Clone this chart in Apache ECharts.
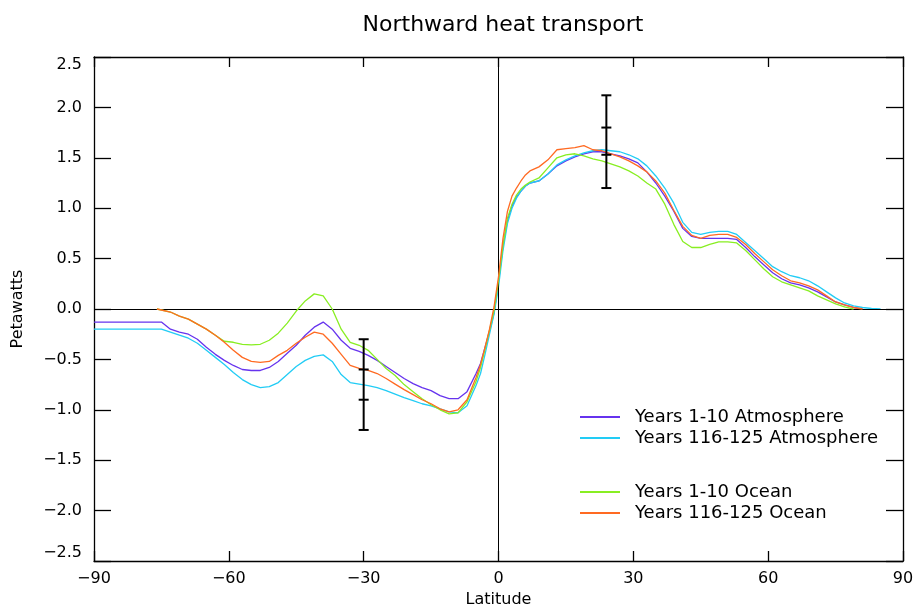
<!DOCTYPE html>
<html>
<head>
<meta charset="utf-8">
<script src="https://cdn.jsdelivr.net/npm/echarts@6/dist/echarts.min.js"></script>
<style>
html,body{margin:0;padding:0;background:#fff;}
#chart{width:917px;height:609px;}
</style>
</head>
<body>
<div id="chart"></div>
<script>
// ---- data ----
const lat = [-90, -76, -75, -73, -71, -69, -67, -65, -63, -61, -59, -57, -55, -53, -51, -49, -47, -45, -43, -41, -39, -37, -35, -33, -31, -29, -27, -25, -23, -21, -19, -17, -15, -13, -11, -9, -7, -5, -4, -3, -2, -1, 0, 1, 2, 3, 4, 5, 6, 7, 9, 11, 13, 15, 17, 19, 21, 23, 25, 27, 29, 31, 33, 35, 37, 39, 41, 43, 45, 47, 49, 51, 53, 55, 57, 59, 61, 63, 65, 67, 69, 71, 73, 75, 77, 79, 81, 83, 85];

const atm1_10 = [-0.13, -0.13, -0.13, -0.20, -0.23, -0.25, -0.30, -0.38, -0.45, -0.51, -0.56, -0.60, -0.61, -0.61, -0.58, -0.52, -0.44, -0.36, -0.26, -0.18, -0.13, -0.20, -0.31, -0.39, -0.42, -0.46, -0.51, -0.57, -0.63, -0.69, -0.74, -0.78, -0.81, -0.86, -0.89, -0.89, -0.82, -0.64, -0.54, -0.38, -0.22, -0.04, 0.27, 0.62, 0.88, 1.02, 1.11, 1.17, 1.22, 1.25, 1.27, 1.34, 1.42, 1.47, 1.51, 1.54, 1.56, 1.56, 1.54, 1.52, 1.49, 1.45, 1.36, 1.25, 1.12, 0.97, 0.80, 0.72, 0.70, 0.70, 0.70, 0.70, 0.69, 0.61, 0.52, 0.44, 0.36, 0.30, 0.26, 0.24, 0.21, 0.17, 0.12, 0.07, 0.04, 0.015, 0.0, null, null];

const atm116_125 = [-0.20, -0.20, -0.20, -0.23, -0.26, -0.29, -0.34, -0.41, -0.48, -0.55, -0.63, -0.70, -0.75, -0.78, -0.77, -0.73, -0.65, -0.57, -0.51, -0.47, -0.455, -0.52, -0.65, -0.73, -0.745, -0.76, -0.78, -0.81, -0.845, -0.88, -0.91, -0.94, -0.96, -0.99, -1.02, -1.03, -0.96, -0.76, -0.64, -0.45, -0.25, -0.05, 0.22, 0.58, 0.85, 1.00, 1.10, 1.17, 1.22, 1.25, 1.27, 1.34, 1.43, 1.48, 1.52, 1.55, 1.57, 1.58, 1.57, 1.56, 1.53, 1.49, 1.42, 1.32, 1.20, 1.05, 0.86, 0.76, 0.74, 0.76, 0.77, 0.77, 0.74, 0.66, 0.58, 0.50, 0.42, 0.37, 0.33, 0.31, 0.28, 0.23, 0.17, 0.11, 0.06, 0.03, 0.015, 0.005, 0.0];

const ocn1_10 = [null, 0.0, -0.01, -0.03, -0.07, -0.10, -0.15, -0.20, -0.26, -0.32, -0.33, -0.35, -0.355, -0.35, -0.31, -0.24, -0.14, -0.02, 0.08, 0.15, 0.13, 0.0, -0.20, -0.33, -0.36, -0.41, -0.50, -0.59, -0.66, -0.75, -0.82, -0.89, -0.95, -1.00, -1.04, -1.03, -0.92, -0.72, -0.58, -0.40, -0.21, -0.02, 0.28, 0.63, 0.90, 1.04, 1.13, 1.19, 1.23, 1.26, 1.30, 1.40, 1.50, 1.53, 1.54, 1.52, 1.49, 1.47, 1.44, 1.41, 1.37, 1.32, 1.25, 1.19, 1.04, 0.84, 0.67, 0.61, 0.61, 0.64, 0.665, 0.665, 0.655, 0.58, 0.49, 0.40, 0.32, 0.27, 0.24, 0.21, 0.18, 0.13, 0.09, 0.05, 0.02, 0.0, null, null, null];

const ocn116_125 = [null, 0.0, -0.01, -0.03, -0.07, -0.10, -0.15, -0.20, -0.26, -0.33, -0.41, -0.48, -0.52, -0.53, -0.52, -0.46, -0.41, -0.34, -0.28, -0.23, -0.25, -0.34, -0.45, -0.56, -0.59, -0.61, -0.64, -0.69, -0.745, -0.80, -0.85, -0.90, -0.94, -0.99, -1.02, -1.00, -0.90, -0.68, -0.55, -0.38, -0.20, 0.02, 0.32, 0.70, 0.97, 1.12, 1.20, 1.27, 1.33, 1.37, 1.41, 1.48, 1.58, 1.59, 1.60, 1.62, 1.58, 1.57, 1.54, 1.51, 1.47, 1.42, 1.36, 1.27, 1.15, 0.98, 0.82, 0.73, 0.70, 0.73, 0.74, 0.74, 0.71, 0.64, 0.55, 0.47, 0.39, 0.33, 0.28, 0.26, 0.23, 0.19, 0.13, 0.07, 0.04, 0.015, 0.0, null, null];

const seriesNames = ['Years 1-10 Atmosphere', 'Years 116-125 Atmosphere', 'Years 1-10 Ocean', 'Years 116-125 Ocean'];
const seriesColors = ['#6633ee', '#22ccf5', '#88ee22', '#ff6a22'];

// error bars: latitude, outer low/high, inner low/high
const errLat = [-30, 24];
const errOuterLow = [-1.2, 1.2];
const errOuterHigh = [-0.3, 2.12];
const errInnerLow = [-0.9, 1.53];
const errInnerHigh = [-0.6, 1.8];

// ---- chart ----
const FONT = 'DejaVu Sans';
const chart = echarts.init(document.getElementById('chart'));
const minus = s => String(s).replace('-', '\u2212');

function pairs(vals) {
  const out = [];
  lat.forEach((x, i) => { if (vals[i] !== null) out.push([x, vals[i]]); });
  return out;
}
const allVals = [atm1_10, atm116_125, ocn1_10, ocn116_125];

const lineSeries = allVals.map((v, k) => ({
  name: seriesNames[k],
  type: 'line',
  data: pairs(v),
  showSymbol: false,
  symbol: 'none',
  lineStyle: { width: 1.3, color: seriesColors[k] },
  itemStyle: { color: seriesColors[k] },
  z: 3 + k,
  animation: false
}));

lineSeries[0].markLine = {
  silent: true,
  symbol: 'none',
  label: { show: false },
  lineStyle: { color: '#000', width: 1, type: 'solid' },
  data: [{ xAxis: 0 }, { yAxis: 0 }],
  animation: false
};

const errSeries = {
  type: 'custom',
  data: errLat.map((x, i) => [x, errOuterLow[i], errOuterHigh[i], errInnerLow[i], errInnerHigh[i]]),
  encode: { x: 0, y: [1, 2, 3, 4] },
  z: 10,
  silent: true,
  animation: false,
  renderItem: function (params, api) {
    const x = api.value(0);
    const ys = [api.value(1), api.value(2), api.value(3), api.value(4)];
    const pts = ys.map(y => api.coord([x, y]));
    const style = { stroke: '#000', lineWidth: 2 };
    const children = [{
      type: 'line',
      shape: { x1: pts[0][0], y1: pts[0][1], x2: pts[1][0], y2: pts[1][1] },
      style: style
    }];
    pts.forEach(p => children.push({
      type: 'line',
      shape: { x1: p[0] - 5, y1: p[1], x2: p[0] + 5, y2: p[1] },
      style: style
    }));
    return { type: 'group', children: children };
  }
};

const legendCommon = {
  orient: 'vertical',
  left: 575,
  itemWidth: 40,
  itemHeight: 2,
  itemGap: 1,
  icon: 'rect',
  selectedMode: false,
  textStyle: { fontFamily: FONT, fontSize: 18, color: '#000', lineHeight: 20, padding: [0, 0, 0, 10] }
};

const option = {
  backgroundColor: '#fff',
  animation: false,
  title: {
    text: 'Northward heat transport',
    left: 498, top: 9, textAlign: 'center',
    textStyle: { fontFamily: FONT, fontSize: 22, fontWeight: 'normal', color: '#000' }
  },
  legend: [
    Object.assign({}, legendCommon, { top: 402, data: [seriesNames[0], seriesNames[1]] }),
    Object.assign({}, legendCommon, { top: 477, data: [seriesNames[2], seriesNames[3]] })
  ],
  grid: { left: 94, right: 14, top: 57, bottom: 48, containLabel: false, outerBoundsMode: 'none' },
  xAxis: [{
    type: 'value', min: -90, max: 90, interval: 30, position: 'bottom',
    name: 'Latitude', nameLocation: 'middle', nameGap: 31,
    nameTextStyle: { fontFamily: FONT, fontSize: 16, color: '#000' },
    axisLine: { show: true, onZero: false, lineStyle: { color: '#000', width: 1.3 } },
    axisTick: { show: true, inside: true, length: 10, lineStyle: { color: '#000', width: 1.3 } },
    axisLabel: { fontFamily: FONT, fontSize: 16, color: '#000', margin: 10, formatter: v => minus(v) },
    splitLine: { show: false }
  }, {
    type: 'value', min: -90, max: 90, interval: 30, position: 'top',
    axisLine: { show: true, onZero: false, lineStyle: { color: '#000', width: 1.3 } },
    axisTick: { show: true, inside: true, length: 10, lineStyle: { color: '#000', width: 1.3 } },
    axisLabel: { show: false },
    splitLine: { show: false }
  }],
  yAxis: [{
    type: 'value', min: -2.5, max: 2.5, interval: 0.5, position: 'left',
    name: 'Petawatts', nameLocation: 'middle', nameGap: 68, nameRotate: 90,
    nameTextStyle: { fontFamily: FONT, fontSize: 16, color: '#000' },
    axisLine: { show: true, onZero: false, lineStyle: { color: '#000', width: 1.3 } },
    axisTick: { show: true, inside: true, length: 17, lineStyle: { color: '#000', width: 1.3 } },
    axisLabel: {
      fontFamily: FONT, fontSize: 16, color: '#000', margin: 12,
      formatter: v => minus(v.toFixed(1)),
      verticalAlignMaxLabel: 'top', verticalAlignMinLabel: 'bottom'
    },
    splitLine: { show: false }
  }, {
    type: 'value', min: -2.5, max: 2.5, interval: 0.5, position: 'right',
    axisLine: { show: true, onZero: false, lineStyle: { color: '#000', width: 1.3 } },
    axisTick: { show: true, inside: true, length: 17, lineStyle: { color: '#000', width: 1.3 } },
    axisLabel: { show: false },
    splitLine: { show: false }
  }],
  series: lineSeries.concat([errSeries])
};
chart.setOption(option);
</script>
</body>
</html>
